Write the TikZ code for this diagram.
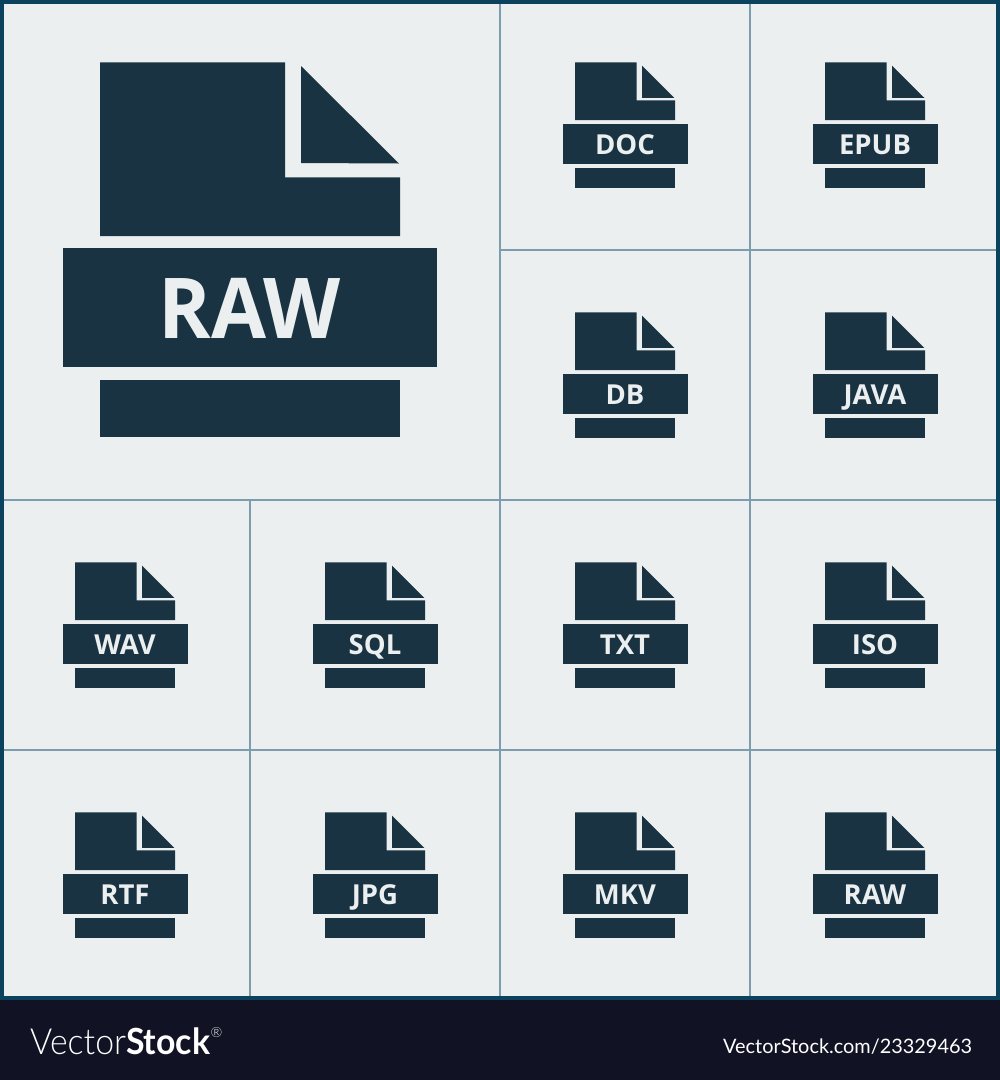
\documentclass[tikz,border=0pt]{standalone}
\usepackage{fontspec}
\setmainfont{Open Sans}
\newfontfamily\logolight{Lato Light}
\newfontfamily\logobold{Lato}
\definecolor{inkdark}{HTML}{1A3342}
\definecolor{cellbg}{HTML}{EBEFF0}
\definecolor{gridline}{HTML}{7C9DAE}
\definecolor{frameblue}{HTML}{0B435F}
\definecolor{footerbg}{HTML}{111324}
\tikzset{
  iconfill/.style={fill=inkdark,draw=none},
  gridrule/.style={draw=gridline,line width=2.8pt},
  icontext/.style={text=cellbg,font=\bfseries,inner sep=0pt,anchor=base},
  footertext/.style={text=white,inner sep=0pt,anchor=base west},
}
% #1 node name, #2 x origin, #3 y origin, #4 label
\newcommand{\fileicon}[4]{%
  \begin{scope}[shift={(#2,#3)}]
    \fill[iconfill] (75,62.3) -- (136.7,62.3) -- (136.7,100.3) -- (175,100.3) -- (175,120) -- (75,120) -- cycle;
    \fill[iconfill] (142,65.6) -- (174.3,97.8) -- (142,97.8) -- cycle;
    \fill[iconfill] (62.5,124.2) rectangle (187.5,164);
    \fill[iconfill] (75,168.2) rectangle (175,187.5);
    \node[icontext,xscale=1.0] (#1) at (125,154.3) {\fontsize{27.5}{27.5}\selectfont #4};
  \end{scope}}
\begin{document}
\begin{tikzpicture}[x=1pt,y=-1pt]
\useasboundingbox (0,0) rectangle (1000,1080);
\fill[footerbg] (0,0) rectangle (1000,1080);
\fill[frameblue] (0,0) rectangle (1000,1000);
\fill[cellbg] (4,4) rectangle (996,996);
% grid
\draw[gridrule] (500,4) -- (500,996);
\draw[gridrule] (750,4) -- (750,996);
\draw[gridrule] (250,500) -- (250,996);
\draw[gridrule] (500,250) -- (996,250);
\draw[gridrule] (4,500) -- (996,500);
\draw[gridrule] (4,750) -- (996,750);
% big icon
\fill[iconfill] (100,62.3) -- (285,62.3) -- (285,177.3) -- (400,177.3) -- (400,236) -- (100,236) -- cycle;
\fill[iconfill] (301,66) -- (399,163.5) -- (301,163) -- cycle;
\fill[iconfill] (63,248.3) rectangle (437,367.3);
\fill[iconfill] (100,379.5) rectangle (400,437);
\node[icontext,xscale=0.95] (bigraw) at (249.5,338) {\fontsize{84}{84}\selectfont RAW};
% small icons
\fileicon{doc}{500}{0}{DOC}
\fileicon{epub}{750}{0}{EPUB}
\fileicon{db}{500}{250}{DB}
\fileicon{java}{750}{250}{JAVA}
\fileicon{wav}{0}{500}{WAV}
\fileicon{sql}{250}{500}{SQL}
\fileicon{txt}{500}{500}{TXT}
\fileicon{iso}{750}{500}{ISO}
\fileicon{rtf}{0}{750}{RTF}
\fileicon{jpg}{250}{750}{JPG}
\fileicon{mkv}{500}{750}{MKV}
\fileicon{raws}{750}{750}{RAW}
% footer
\node[footertext,xscale=0.94] (logo) at (30,1054) {\fontsize{36}{36}\selectfont{\logolight Vector}{\logobold\bfseries Stock}};
\node[text=white,inner sep=0pt,anchor=base west] (reg) at (210.5,1037) {\fontsize{14}{14}\selectfont\logolight ®};
\node[footertext] (url) at (723,1053) {\fontsize{19.9}{19.9}\selectfont\logobold VectorStock.com/23329463};
\end{tikzpicture}
\end{document}
